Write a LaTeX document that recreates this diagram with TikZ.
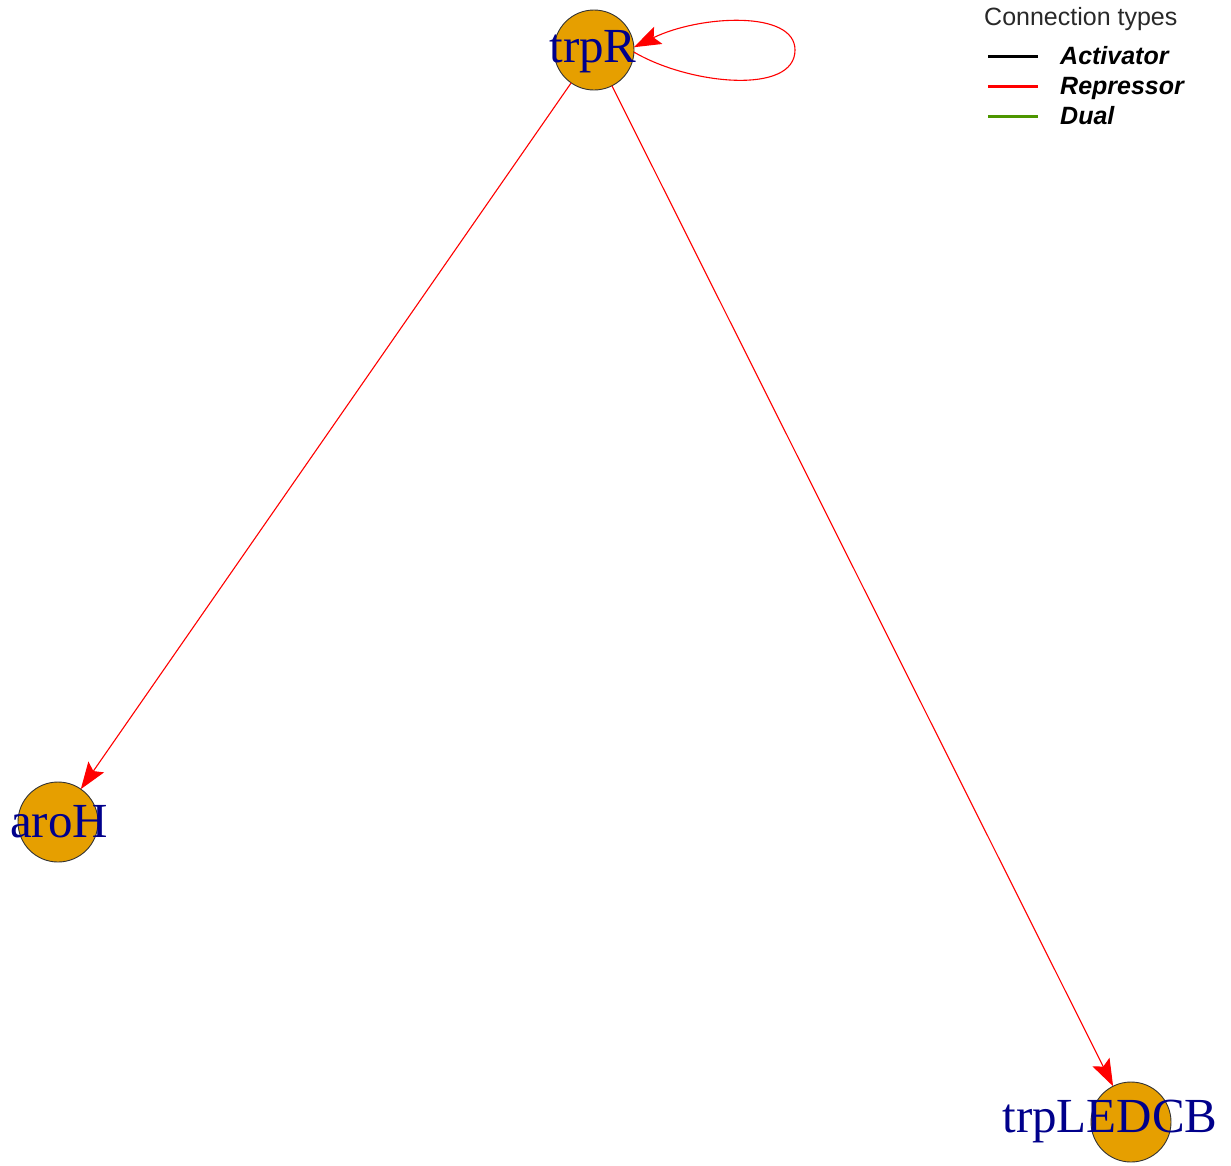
\documentclass[tikz,border=0pt]{standalone}
\usepackage{fontspec}
\setmainfont{Liberation Serif}
\setsansfont{Liberation Sans}
\usetikzlibrary{arrows.meta}
\definecolor{nodefill}{RGB}{230,159,0}
\definecolor{labelblue}{RGB}{0,0,139}
\definecolor{edgered}{RGB}{255,0,0}
\definecolor{dualgreen}{RGB}{77,150,0}
\definecolor{titlegray}{RGB}{40,40,40}
\tikzset{
  gene/.style={circle, draw=black!80, line width=0.9pt, fill=nodefill, minimum size=80pt, inner sep=0pt, outer sep=0pt},
  genelabel/.style={anchor=base, inner sep=0pt, text=labelblue, font=\fontsize{49}{49}\selectfont},
  edge/.style={draw=edgered, line width=1.1pt, -{Stealth[length=27pt, width=19pt, inset=5pt]}},
  legline/.style={line width=3pt},
  legtitle/.style={anchor=base west, inner sep=0pt, text=titlegray, font=\sffamily\fontsize{25}{25}\selectfont},
  legitem/.style={anchor=base west, inner sep=0pt, font=\sffamily\bfseries\itshape\fontsize{25}{25}\selectfont}
}
\begin{document}
\begin{tikzpicture}[x=1pt, y=-1pt]
\useasboundingbox (0,0) rectangle (1231,1165);
% nodes
\node[gene] (trpR) at (594,50) {};
\node[gene] (aroH) at (58,822) {};
\node[gene] (trpLEDCB) at (1131,1122) {};
% edges
\draw[edge] (trpR) -- (aroH);
\draw[edge] (trpR) -- (trpLEDCB);
\draw[edge] (trpR.-3) .. controls (690,85) and (795,95) .. (795,50)
  .. controls (795,10) and (700,15) .. (trpR.4);
% labels
\node[genelabel] (trpRlab) at (593,62) {trpR};
\node[genelabel] (aroHlab) at (59,837) {aroH};
\node[genelabel] (trpLEDCBlab) at (1110,1132) {trpLEDCB};
% legend
\node[legtitle] (legt) at (984,25) {Connection types};
\coordinate (la1) at (988,56); \coordinate (la2) at (1038,56);
\coordinate (lr1) at (988,86); \coordinate (lr2) at (1038,86);
\coordinate (ld1) at (988,116); \coordinate (ld2) at (1038,116);
\draw[legline, black] (la1) -- (la2);
\draw[legline, edgered] (lr1) -- (lr2);
\draw[legline, dualgreen] (ld1) -- (ld2);
\node[legitem] (lega) at (1060,64) {Activator};
\node[legitem] (legr) at (1060,94) {Repressor};
\node[legitem] (legd) at (1060,124) {Dual};
\end{tikzpicture}
\end{document}
